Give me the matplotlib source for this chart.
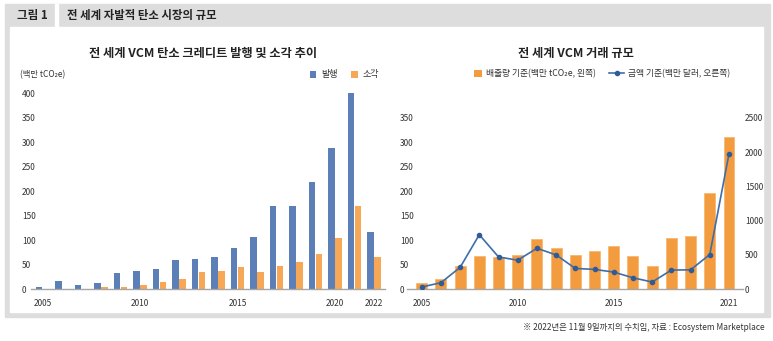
import matplotlib.pyplot as plt
import matplotlib.patches as mpatches
from matplotlib.lines import Line2D
from matplotlib.legend_handler import HandlerPatch
import numpy as np

plt.rcParams['font.family'] = ['Noto Sans CJK KR', 'DejaVu Sans']

# left chart: issuance / retirement (million tCO2e)
years_left = list(range(2005, 2023))
issued = [5, 17, 8, 12, 33, 38, 42, 60, 62, 65, 84, 106, 171, 169, 219, 288, 401, 117]
retired = [0, 0, 0, 5, 5, 9, 15, 21, 35, 37, 45, 35, 47, 56, 72, 104, 169, 65]
left_ticks = [2005, 2010, 2015, 2020, 2022]

# right chart: market volume (million tCO2e) and value (million USD)
years_right = list(range(2005, 2022))
volume = [12, 21, 48, 67, 65, 70, 103, 84, 70, 79, 88, 67, 48, 105, 109, 197, 311]
value = [33, 96, 319, 796, 472, 424, 598, 501, 304, 290, 251, 168, 106, 280, 284, 507, 1974]
right_ticks = [2005, 2010, 2015, 2021]

W, H = 773, 341
fig = plt.figure(figsize=(W / 100, H / 100), dpi=100)
fig.patch.set_facecolor('white')


def fx(px):
    return px / W


def fy(py):
    return 1 - py / H


def rect(x0, y0, x1, y1, color):
    fig.patches.append(mpatches.Rectangle((fx(x0), fy(y1)), fx(x1 - x0), (y1 - y0) / H,
                                          transform=fig.transFigure, color=color, zorder=-10))


class SquareHandler(HandlerPatch):
    # draw legend patch as a small square
    def create_artists(self, legend, orig_handle, xdescent, ydescent, width, height, fontsize, trans):
        s = height
        p = mpatches.Rectangle((width - s - xdescent, -ydescent), s, s,
                               facecolor=orig_handle.get_facecolor(), edgecolor='none', transform=trans)
        return [p]


# frame and header
rect(5, 4, 770, 317, '#dcdddc')
rect(10, 27, 763, 312, 'white')
rect(55, 4, 58, 27, 'white')
fig.text(fx(17), fy(16), '그림 1', fontsize=8.3, fontweight='bold', va='center', color='#222222')
fig.text(fx(67), fy(16), '전 세계 자발적 탄소 시장의 규모', fontsize=8.2, fontweight='bold',
         va='center', color='#222222')

BLUE = '#5b7fb6'
ORANGE_L = '#f6a857'
ORANGE_R = '#f39c3f'
LINE = '#3e6ea8'
AXIS = '#a6a6a6'
TXT = '#333333'

# ---------- left chart ----------
ax1 = fig.add_axes([fx(31), fy(289.3), fx(385 - 31), 196 / H])
ax1.set_facecolor('none')
x = np.arange(len(years_left))
ax1.bar(x - 0.18, issued, width=0.32, color=BLUE, zorder=2)
ax1.bar(x + 0.18, retired, width=0.32, color=ORANGE_L, zorder=2)
ax1.set_xlim(-0.59, 17.56)
ax1.set_ylim(0, 400)
ax1.set_yticks(range(0, 401, 50))
ax1.set_xticks([years_left.index(y) for y in left_ticks])
ax1.set_xticklabels([str(y) for y in left_ticks])
for s in ['top', 'right', 'left']:
    ax1.spines[s].set_visible(False)
ax1.spines['bottom'].set_color(AXIS)
ax1.spines['bottom'].set_linewidth(1)
ax1.tick_params(axis='both', length=0, labelsize=6, colors=TXT)
ax1.tick_params(axis='x', pad=7)
ax1.tick_params(axis='y', pad=6.5)
for lab in ax1.get_yticklabels():
    lab.set_ha('left')
fig.text(fx(203), fy(53), '전 세계 VCM 탄소 크레디트 발행 및 소각 추이', fontsize=8.8,
         fontweight='bold', ha='center', va='center', color='#222222')
fig.text(fx(20), fy(75), '(백만 tCO₂e)', fontsize=6, va='center', color=TXT)
h1 = [mpatches.Patch(color=BLUE, label='발행'), mpatches.Patch(color=ORANGE_L, label='소각')]
fig.legend(handles=h1, loc='center right', bbox_to_anchor=(fx(384), fy(75)), ncol=2,
           frameon=False, fontsize=6.5, handlelength=0.75, handleheight=0.75,
           handletextpad=0.6, columnspacing=1.4, borderpad=0, labelcolor=TXT,
           handler_map={mpatches.Patch: SquareHandler()})

# ---------- right chart ----------
ax2 = fig.add_axes([fx(406.7), fy(289.3), fx(743 - 406.7), 196 / H])
ax2.set_facecolor('none')
xr = np.arange(len(years_right))
ax2.bar(xr, volume, width=0.57, color=ORANGE_R, edgecolor='#f8b870', linewidth=0.6, zorder=2)
ax2.set_xlim(-0.78, 16.73)
ax2.set_ylim(0, 400)
ax2.set_yticks(range(0, 351, 50))
ax2.set_xticks([years_right.index(y) for y in right_ticks])
ax2.set_xticklabels([str(y) for y in right_ticks])
for s in ['top', 'right', 'left']:
    ax2.spines[s].set_visible(False)
ax2.spines['bottom'].set_color(AXIS)
ax2.spines['bottom'].set_linewidth(1)
ax2.tick_params(axis='both', length=0, labelsize=6, colors=TXT)
ax2.tick_params(axis='x', pad=7)
ax2.tick_params(axis='y', pad=5)
for lab in ax2.get_yticklabels():
    lab.set_ha('left')

ax3 = ax2.twinx()
ax3.plot(xr, value, color=LINE, linewidth=1.2, marker='o', markersize=3,
         markerfacecolor='#2f5c99', markeredgecolor='#2f5c99', zorder=3)
ax3.set_ylim(0, 400 * 2500 / 350)
ax3.set_yticks(range(0, 2501, 500))
for s in ['top', 'right', 'left', 'bottom']:
    ax3.spines[s].set_visible(False)
ax3.tick_params(axis='y', length=0, labelsize=6, colors=TXT, pad=1.5)

fig.text(fx(576), fy(53), '전 세계 VCM 거래 규모', fontsize=8.8, fontweight='bold',
         ha='center', va='center', color='#222222')
h2 = [mpatches.Patch(color=ORANGE_R, label='배출량 기준(백만 tCO₂e, 왼쪽)'),
      Line2D([], [], color=LINE, linewidth=1.2, marker='o', markersize=3,
             markerfacecolor='#2f5c99', markeredgecolor='#2f5c99',
             label='금액 기준(백만 달러, 오른쪽)')]
fig.legend(handles=h2, loc='center', bbox_to_anchor=(fx(598.5), fy(74)), ncol=2,
           frameon=False, fontsize=6.3, handlelength=1.7, handleheight=1.0,
           handletextpad=0.4, columnspacing=1.6, borderpad=0, labelcolor=TXT,
           handler_map={mpatches.Patch: SquareHandler()})

fig.text(fx(765), fy(328), '※ 2022년은 11월 9일까지의 수치임, 자료 : Ecosystem Marketplace',
         fontsize=6, ha='right', va='center', color=TXT)

fig.savefig('out.png', dpi=100, facecolor='white')
